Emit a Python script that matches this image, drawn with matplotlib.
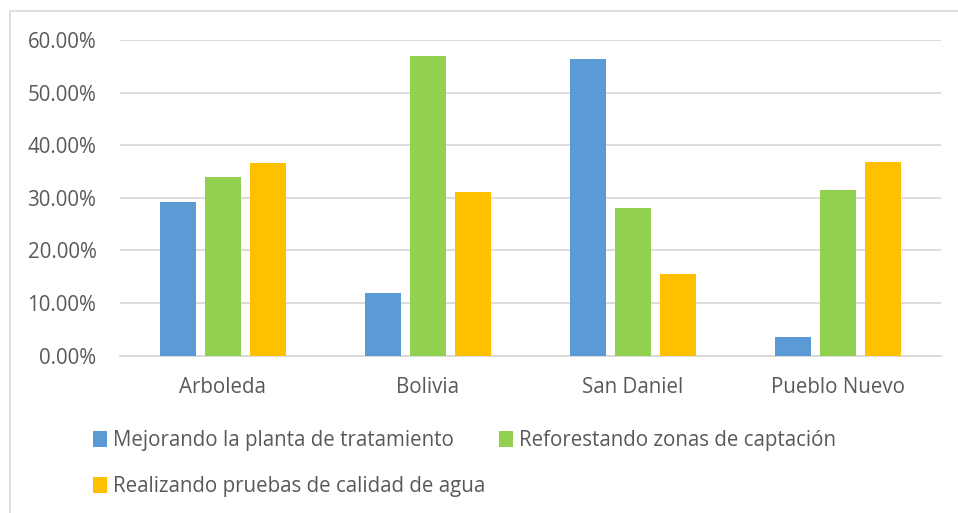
import numpy as np
import matplotlib
matplotlib.use("Agg")
import matplotlib.pyplot as plt
from matplotlib.patches import Rectangle
from matplotlib.ticker import FuncFormatter

plt.rcParams['font.family'] = ['Open Sans', 'DejaVu Sans']

comunidades = ['Arboleda', 'Bolivia', 'San Daniel', 'Pueblo Nuevo']
series = ['Mejorando la planta de tratamiento',
          'Reforestando zonas de captación',
          'Realizando pruebas de calidad de agua']
planta = [0.292, 0.119, 0.563, 0.036]
reforestando = [0.340, 0.570, 0.281, 0.315]
pruebas = [0.367, 0.311, 0.155, 0.369]
colores = ['#5B9BD5', '#92D050', '#FFC000']

texto = '#595959'
rejilla = '#D9D9D9'

fig = plt.figure(figsize=(9.58, 5.13), dpi=100)
ax = fig.add_axes([120 / 958, 1 - 355.7 / 513, 821 / 958, 315.7 / 513])

# marco del grafico
fig.patches.append(Rectangle((10 / 958, -0.1), 1.2, 1 - 11 / 513 + 0.1,
                             transform=fig.transFigure, fill=False,
                             edgecolor=rejilla, linewidth=1.2))

x = np.arange(len(comunidades))
paso = 0.219
ancho = 0.175
barras = []
for i, (vals, col) in enumerate(zip([planta, reforestando, pruebas], colores)):
    b = ax.bar(x + (i - 1) * paso, vals, width=ancho, color=col,
               label=series[i], zorder=3)
    barras.append(b)

ax.set_xlim(-0.5, len(comunidades) - 0.5)
ax.set_ylim(0, 0.6)
ax.set_yticks(np.arange(0, 0.61, 0.1))
ax.yaxis.set_major_formatter(FuncFormatter(lambda v, p: f'{v * 100:.2f}%'))
ax.set_xticks(x)
ax.set_xticklabels(comunidades)
ax.grid(axis='y', color=rejilla, linewidth=1.3, zorder=0)
for s in ['top', 'right', 'left']:
    ax.spines[s].set_visible(False)
ax.spines['bottom'].set_color(rejilla)
ax.spines['bottom'].set_linewidth(1.3)
ax.tick_params(axis='both', length=0, colors=texto, labelsize=14.8)
ax.tick_params(axis='y', pad=17)
ax.tick_params(axis='x', pad=15)

# orden para que queden dos en la primera fila y uno en la segunda
orden = [0, 2, 1]
leg = fig.legend([barras[i] for i in orden], [series[i] for i in orden],
                 ncol=2, loc='upper left', bbox_to_anchor=(85 / 958, 1 - 422 / 513),
                 frameon=False, fontsize=14.8, handlelength=0.65, handleheight=0.8,
                 handletextpad=0.3, columnspacing=0.7, labelspacing=1.2,
                 borderaxespad=0)
for t in leg.get_texts():
    t.set_color(texto)

fig.savefig('out.png', dpi=100)
